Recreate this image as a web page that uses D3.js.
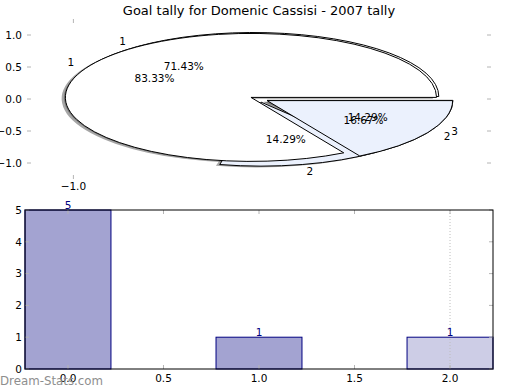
<!DOCTYPE html>
<meta charset="utf-8">
<style>
body{margin:0;background:#fff;}
text{font-family:"DejaVu Sans",sans-serif;font-size:10.5px;}
.title{font-size:13px;text-anchor:middle;}
.wedge{stroke:#000;stroke-width:1px;vector-effect:non-scaling-stroke;}
.shadow{fill:#4d4d4d;fill-opacity:0.5;stroke:none;}
.tick{stroke:#b4b4b4;stroke-width:1px;}
.bar{stroke:#000080;stroke-width:1px;}
.barlabel{fill:#000080;text-anchor:middle;}
.frame{fill:none;stroke:#000;stroke-width:1px;}
</style>
<body>
<script src="https://d3js.org/d3.v7.min.js"></script>
<script>
// data
var pieValuesA = [5, 1];
var pieLabelsA = ["1", "2"];
var pieValuesB = [5, 1, 1];
var pieLabelsB = ["1", "2", "3"];
var pieYTicks = [1.0, 0.5, 0.0, -0.5, -1.0];
var pieXTicks = [-1.0];
var barPos = [0, 1, 2];
var barValues = [5, 1, 1];
var barXTicks = [0, 0.5, 1.0, 1.5, 2.0];
var barYTicks = [0, 1, 2, 3, 4, 5];
var markLine = [2.0];

var colorsA = ["#ffffff", "#ebf1fd"];
var colorsB = ["#ffffff", "#ebf1fd", "#ebf1fd"];
var barFill = ["#a3a3d1", "#a3a3d1", "#cdcde6"];

var svg = d3.select("body").append("svg").attr("width", 520).attr("height", 390);

svg.append("text").attr("class", "title").attr("x", 259).attr("y", 15)
	.text("Goal tally for Domenic Cassisi - 2007 tally");

// ---- pie axes
var sx = d3.scaleLinear().domain([-1.25, 1.25]).range([27, 491]);
var sy = d3.scaleLinear().domain([-1.25, 1.25]).range([179, 19]);
var kx = sx(1) - sx(0), ky = sy(0) - sy(1);
var fmt = d3.format(".1f");
var minus = function(v){ return fmt(v).replace("-", "\u2212"); };

var pg = svg.append("g");
pieYTicks.forEach(function(t){
	pg.append("line").attr("class", "tick").attr("x1", sx.range()[0]).attr("x2", sx.range()[0] + 4)
		.attr("y1", sy(t)).attr("y2", sy(t));
	pg.append("line").attr("class", "tick").attr("x1", sx.range()[1]).attr("x2", sx.range()[1] - 4)
		.attr("y1", sy(t)).attr("y2", sy(t));
	pg.append("text").attr("x", 22).attr("y", sy(t)).attr("dy", "0.36em")
		.attr("text-anchor", "end").text(minus(t));
});
pieXTicks.forEach(function(t){
	pg.append("line").attr("class", "tick").attr("x1", sx(t)).attr("x2", sx(t))
		.attr("y1", sy.range()[1]).attr("y2", sy.range()[1] + 4);
	pg.append("line").attr("class", "tick").attr("x1", sx(t)).attr("x2", sx(t))
		.attr("y1", sy.range()[0]).attr("y2", sy.range()[0] - 4);
	pg.append("text").attr("x", sx(t)).attr("y", sy.range()[0] + 11)
		.attr("text-anchor", "middle").text(minus(t));
});

var arc = d3.arc().innerRadius(0).outerRadius(1);
function layout(values){
	var arcs = d3.pie().sort(null).startAngle(Math.PI / 2).endAngle(Math.PI / 2 - 2 * Math.PI)(values);
	var total = d3.sum(values);
	arcs.forEach(function(d){
		d.mid = (d.startAngle + d.endAngle) / 2;
		d.cx = sx(0.05 * Math.sin(d.mid));
		d.cy = sy(0.05 * Math.cos(d.mid));
		d.pct = d.value / total;
	});
	return arcs;
}
var arcsA = layout(pieValuesA), arcsB = layout(pieValuesB);

// shadows below every wedge
arcsB.concat(arcsA).forEach(function(d){
	pg.append("path").attr("class", "shadow")
		.attr("transform", "translate(" + (d.cx - 0.02 * kx) + "," + (d.cy + 0.02 * ky) + ") scale(" + kx + "," + ky + ")")
		.attr("d", arc(d));
});
function wedges(arcs, colors){
	arcs.forEach(function(d, i){
		pg.append("path").attr("class", "wedge").attr("fill", colors[i])
			.attr("transform", "translate(" + d.cx + "," + d.cy + ") scale(" + kx + "," + ky + ")")
			.attr("d", arc(d));
	});
}
wedges(arcsB, colorsB);
wedges(arcsA, colorsA);

function texts(arcs, labels){
	arcs.forEach(function(d, i){
		var ux = Math.sin(d.mid), uy = Math.cos(d.mid);
		pg.append("text").attr("x", d.cx + 1.1 * kx * ux).attr("y", d.cy - 1.1 * ky * uy)
			.attr("dy", "0.36em").attr("text-anchor", ux > 0 ? "start" : "end").text(labels[i]);
		pg.append("text").attr("x", d.cx + 0.6 * kx * ux).attr("y", d.cy - 0.6 * ky * uy)
			.attr("dy", "0.36em").attr("text-anchor", "middle").text(d3.format(".2%")(d.pct));
	});
}
texts(arcsA, pieLabelsA);
texts(arcsB, pieLabelsB);

// ---- bar axes
var bx = d3.scaleLinear().domain([-0.225, 2.225]).range([25, 493]);
var by = d3.scaleLinear().domain([0, 5]).range([369, 210]);
var w = 0.45;
var bg = svg.append("g");

bg.selectAll(".bar").data(barValues).enter().append("rect").attr("class", "bar")
	.attr("x", (d, i) => bx(barPos[i] - w / 2))
	.attr("width", (d, i) => bx(barPos[i] + w / 2) - bx(barPos[i] - w / 2))
	.attr("y", d => by(d))
	.attr("height", d => by(0) - by(d))
	.attr("fill", (d, i) => barFill[i]);

markLine.forEach(function(t){
	bg.append("line").attr("x1", bx(t)).attr("x2", bx(t)).attr("y1", by(5)).attr("y2", by(0))
		.attr("stroke", "#bdbdbd").attr("stroke-dasharray", "1,2");
});

barXTicks.forEach(function(t){
	bg.append("line").attr("class", "tick").attr("x1", bx(t)).attr("x2", bx(t)).attr("y1", by(0)).attr("y2", by(0) - 4);
	bg.append("line").attr("class", "tick").attr("x1", bx(t)).attr("x2", bx(t)).attr("y1", by(5)).attr("y2", by(5) + 4);
	bg.append("text").attr("x", bx(t)).attr("y", by(0) + 13).attr("text-anchor", "middle").text(fmt(t));
});
barYTicks.forEach(function(t){
	bg.append("line").attr("class", "tick").attr("x1", bx.range()[0]).attr("x2", bx.range()[0] + 4).attr("y1", by(t)).attr("y2", by(t));
	bg.append("line").attr("class", "tick").attr("x1", bx.range()[1]).attr("x2", bx.range()[1] - 4).attr("y1", by(t)).attr("y2", by(t));
	bg.append("text").attr("x", 22).attr("y", by(t)).attr("dy", "0.36em").attr("text-anchor", "end").text(t);
});

bg.append("rect").attr("class", "frame").attr("x", bx.range()[0]).attr("y", by(5))
	.attr("width", bx.range()[1] - bx.range()[0]).attr("height", by(0) - by(5));

bg.selectAll(".barlabel").data(barValues).enter().append("text").attr("class", "barlabel")
	.attr("x", (d, i) => bx(barPos[i])).attr("y", d => by(d) - 1).text(d => d);

svg.append("text").attr("x", 0).attr("y", 385).style("font-size", "13px")
	.attr("fill", "#8e8e8e").attr("textLength", 103).attr("lengthAdjust", "spacingAndGlyphs")
	.text("Dream-Stats.com");
</script>
</body>
